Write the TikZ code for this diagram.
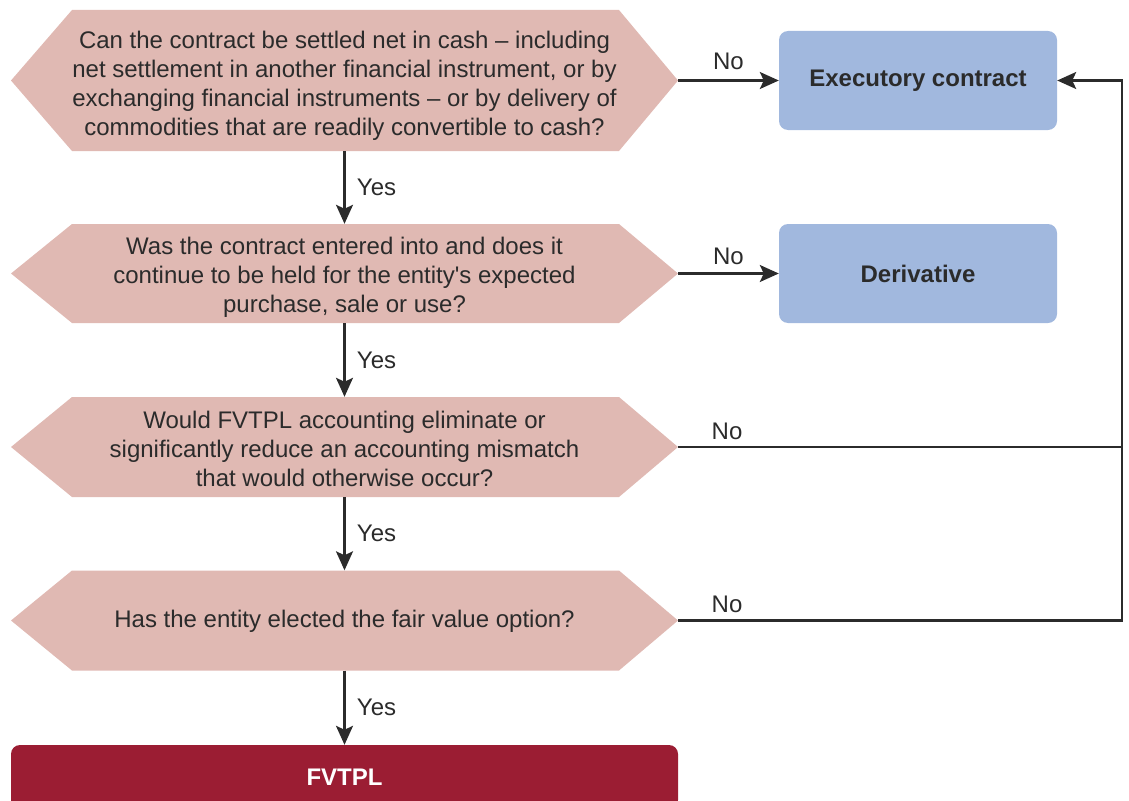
\documentclass[tikz,border=0pt]{standalone}
\usepackage{fontspec}
\setmainfont{Liberation Sans}
\usetikzlibrary{arrows.meta}
\definecolor{hexc}{HTML}{E0B9B3}
\definecolor{bluec}{HTML}{A1B8DE}
\definecolor{redc}{HTML}{9B1D33}
\definecolor{txt}{HTML}{2B2B2B}
\begin{document}
\begin{tikzpicture}[x=1pt,y=-1pt,
  every node/.style={text=txt,font=\fontsize{24}{29}\selectfont},
  hexbox/.style={minimum width=667pt,inner sep=0pt,
    path picture={\fill[hexc] (path picture bounding box.west)
      -- ([xshift=61pt]path picture bounding box.north west)
      -- ([xshift=-59pt]path picture bounding box.north east)
      -- (path picture bounding box.east)
      -- ([xshift=-59pt]path picture bounding box.south east)
      -- ([xshift=61pt]path picture bounding box.south west) -- cycle;}},
  hextext/.style={align=center,inner sep=0pt},
  outbox/.style={fill=bluec,rounded corners=9pt,minimum width=278pt,minimum height=99pt,inner sep=0pt,font=\fontsize{24}{29}\selectfont\bfseries},
  conn/.style={draw=txt,line width=2.2pt,-{Stealth[length=19pt,width=17pt,inset=4pt]}},
  line/.style={draw=txt,line width=2.2pt},
  lbl/.style={font=\fontsize{24}{29}\selectfont}]
\useasboundingbox (0,0) rectangle (1129,800);
\node[hexbox,minimum height=141pt] (h1) at (344.5,80.5) {};
\node[hexbox,minimum height=99pt] (h2) at (344.5,273.5) {};
\node[hexbox,minimum height=100pt] (h3) at (344.5,447) {};
\node[hexbox,minimum height=100pt] (h4) at (344.5,620.5) {};
\node[hextext] (h1t) at ([yshift=-5pt]h1.center) {Can the contract be settled net in cash -- including\\net settlement in another financial instrument, or by\\exchanging financial instruments -- or by delivery of\\commodities that are readily convertible to cash?};
\node[hextext] (h2t) at ([yshift=-4pt]h2.center) {Was the contract entered into and does it\\continue to be held for the entity\textquotesingle s expected\\purchase, sale or use?};
\node[hextext] (h3t) at ([yshift=-2pt]h3.center) {Would FVTPL accounting eliminate or\\significantly reduce an accounting mismatch\\that would otherwise occur?};
\node[hextext] (h4t) at ([yshift=-1pt]h4.center) {Has the entity elected the fair value option?};
\node[fill=redc,rounded corners=9pt,minimum width=667pt,minimum height=64pt,inner sep=0pt,text=white,font=\fontsize{24}{29}\selectfont\bfseries] (fv) at (344.5,777) {FVTPL};
\node[outbox] (ex) at (918,80.5) {Executory contract};
\node[outbox] (de) at (918,273.5) {Derivative};
\coordinate (r3) at (1122,447);
\coordinate (r4) at (1122,620.5);
\draw[conn] (h1.east) -- node[lbl,above=6pt] {No} (ex.west);
\draw[conn] (h2.east) -- node[lbl,above=4pt] {No} (de.west);
\draw[line] (h3.east) -- node[lbl,above=3pt,pos=0.11] {No} (r3);
\draw[line] (h4.east) -- node[lbl,above=3pt,pos=0.11] {No} (r4) -- (r3);
\draw[conn] (r3) |- (ex.east);
\draw[conn] (h1.south) -- node[lbl,right=8pt] {Yes} (h2.north);
\draw[conn] (h2.south) -- node[lbl,right=8pt] {Yes} (h3.north);
\draw[conn] (h3.south) -- node[lbl,right=8pt] {Yes} (h4.north);
\draw[conn] (h4.south) -- node[lbl,right=8pt] {Yes} (fv.north);
\end{tikzpicture}
\end{document}
